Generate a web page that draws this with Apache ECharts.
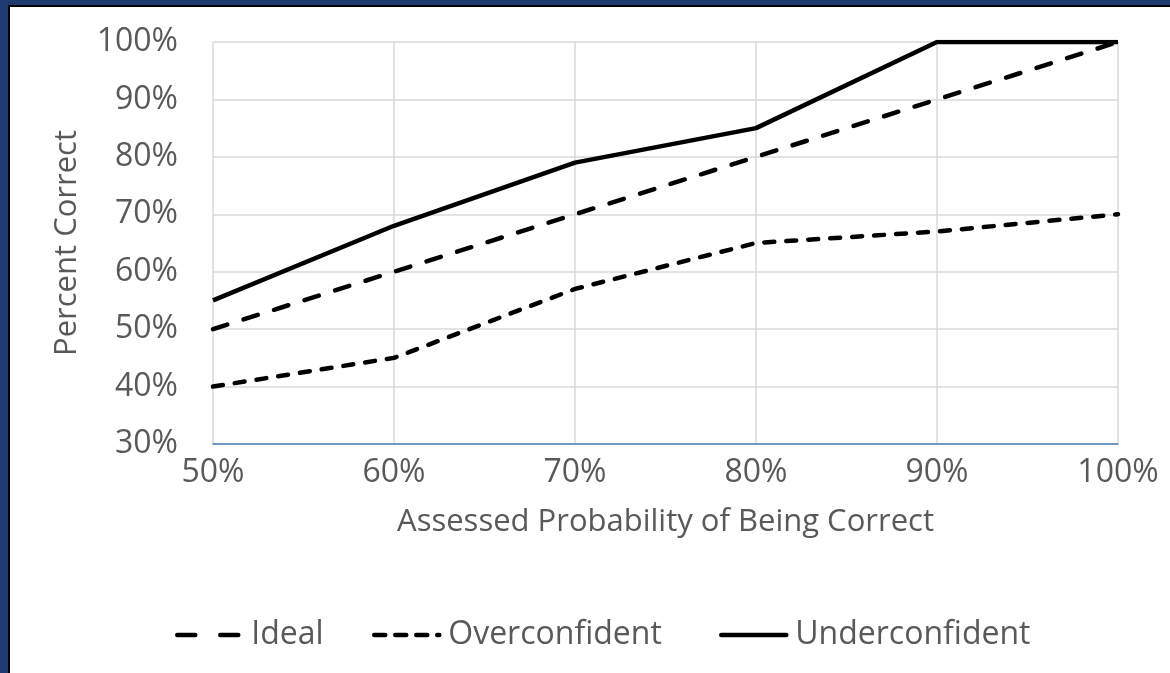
<!DOCTYPE html>
<html>
<head>
<meta charset="utf-8">
<script src="https://cdn.jsdelivr.net/npm/echarts@6/dist/echarts.min.js"></script>
<style>
* { margin: 0; padding: 0; box-sizing: border-box; }
body { width: 1170px; height: 673px; background: #1f3a6e; overflow: hidden; position: relative; }
.frame { position: absolute; left: 8px; top: 5px; right: 0; bottom: 0; background: #000; }
#chart { position: absolute; left: 10px; top: 7px; width: 1160px; height: 666px; background: #fff; }
</style>
</head>
<body>
<div class="frame"></div>
<div id="chart"></div>
<script>
const categories = ['50%', '60%', '70%', '80%', '90%', '100%']
const ideal = [50, 60, 70, 80, 90, 100]
const overconfident = [40, 45, 57, 65, 67, 70]
const underconfident = [55, 68, 79, 85, 100, 100]

const font = 'Open Sans'
const textColor = '#595959'

// one legend per entry so each sits where the original has it
function legendAt(name, left, dash) {
  return {
    data: [name],
    left: left,
    top: 607,
    itemWidth: 65,
    itemHeight: 14,
    itemStyle: { opacity: 0 },
    lineStyle: { width: 4.5, type: dash, cap: 'round', color: '#000' },
    textStyle: { color: textColor, fontSize: 32, fontFamily: font, padding: [0, 0, 0, 4] }
  }
}

const chart = echarts.init(document.getElementById('chart'))
chart.setOption({
  backgroundColor: '#fff',
  animation: false,
  grid: { left: 203, right: 52, top: 35, bottom: 229 },
  xAxis: {
    type: 'category',
    data: categories,
    boundaryGap: false,
    name: 'Assessed Probability of Being Correct',
    nameLocation: 'middle',
    nameGap: 63,
    nameTextStyle: { color: textColor, fontSize: 31, fontFamily: font },
    axisLine: { lineStyle: { color: '#4a7ebb', width: 1.5 } },
    axisTick: { show: false },
    axisLabel: { color: textColor, fontSize: 32, fontFamily: font, margin: 13 },
    splitLine: { show: true, lineStyle: { color: '#d9d9d9', width: 1.5 } }
  },
  yAxis: {
    type: 'value',
    min: 30,
    max: 100,
    interval: 10,
    name: 'Percent Correct',
    nameLocation: 'middle',
    nameGap: 130,
    nameTextStyle: { color: textColor, fontSize: 31, fontFamily: font },
    axisLine: { show: false },
    axisTick: { show: false },
    axisLabel: { color: textColor, fontSize: 32, fontFamily: font, margin: 35, formatter: '{value}%' },
    splitLine: { lineStyle: { color: '#d9d9d9', width: 1.5 } }
  },
  legend: [
    legendAt('Ideal', 160, [18, 25]),
    legendAt('Overconfident', 357, [11, 10]),
    legendAt('Underconfident', 704, 'solid')
  ],
  series: [
    {
      name: 'Ideal',
      type: 'line',
      data: ideal,
      symbol: 'none',
      color: '#000',
      lineStyle: { color: '#000', width: 4.5, type: [15, 17], cap: 'round' }
    },
    {
      name: 'Overconfident',
      type: 'line',
      data: overconfident,
      symbol: 'none',
      color: '#000',
      lineStyle: { color: '#000', width: 4.5, type: [10, 12], cap: 'round' }
    },
    {
      name: 'Underconfident',
      type: 'line',
      data: underconfident,
      symbol: 'none',
      color: '#000',
      lineStyle: { color: '#000', width: 4.5, type: 'solid' }
    }
  ]
})
</script>
</body>
</html>
